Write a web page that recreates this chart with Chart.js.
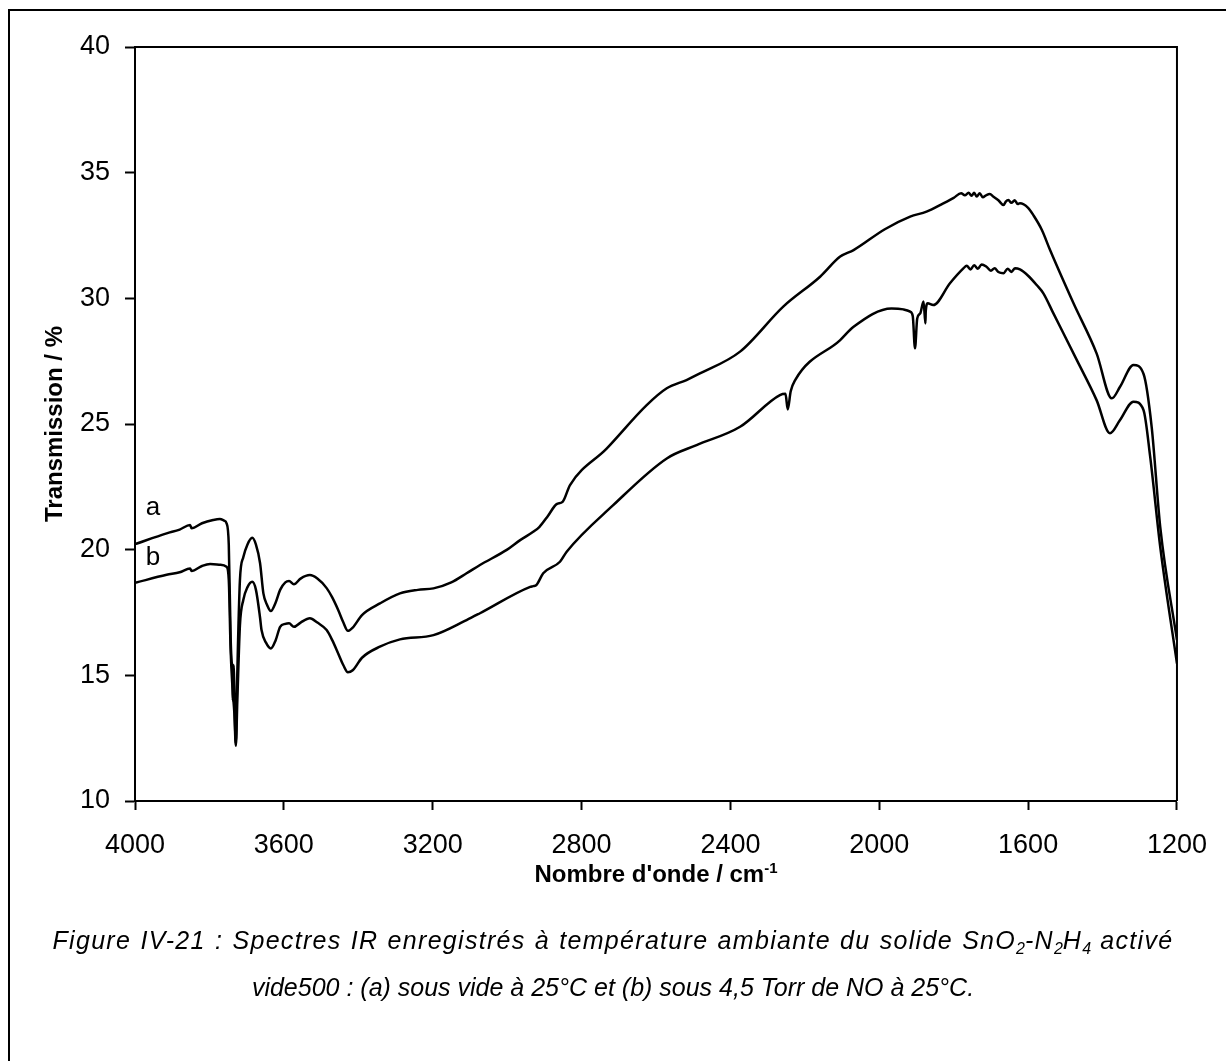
<!DOCTYPE html>
<html>
<head>
<meta charset="utf-8">
<script src="https://cdn.jsdelivr.net/npm/chart.js@4.4.0/dist/chart.umd.min.js"></script>
<style>
  body { margin: 0; background: #fff; }
  #wrap {
    position: relative; width: 1226px; height: 1061px; overflow: hidden;
    font-family: "Liberation Sans", Arial, sans-serif; color: #000;
  }
  #chart { position: absolute; left: 0; top: 0; }
  #frame {
    position: absolute; left: 8px; top: 9px; width: 1400px; height: 1200px;
    border-left: 2px solid #000; border-top: 2px solid #000;
  }
  .xtitle {
    position: absolute; left: 135px; width: 1042px; top: 859px;
    text-align: center; font-weight: bold; font-size: 24px; line-height: 30px;
  }
  .xtitle sup { font-size: 15px; line-height: 0; vertical-align: 9px; }
  .caption {
    position: absolute; left: 0; width: 1226px; text-align: center;
    font-style: italic; font-size: 25px; line-height: 30px; white-space: nowrap;
  }
  .caption.first { letter-spacing: 1.3px; word-spacing: 1px; }
  .caption sub { font-size: 16px; line-height: 0; vertical-align: -5px; letter-spacing: 0; }
</style>
</head>
<body>
<div id="wrap">
  <canvas id="chart" width="1226" height="1061"></canvas>
  <div id="frame"></div>
  <div class="xtitle">Nombre d'onde / cm<sup>-1</sup></div>
  <div class="caption first" style="top:925px">Figure IV-21 : Spectres IR enregistrés à température ambiante du solide SnO<sub>2</sub>-N<sub>2</sub>H<sub>4</sub> activé</div>
  <div class="caption" style="top:972px">vide500 : (a) sous vide à 25°C et (b) sous 4,5 Torr de NO à 25°C.</div>
</div>
<script>
// spectre (a) : sous vide à 25°C
const waveA = [4000, 3915, 3880, 3852, 3848, 3820, 3790, 3772, 3760, 3754, 3748, 3743, 3740, 3738, 3737,
  3735, 3732, 3729, 3726, 3718, 3709, 3698, 3685, 3675, 3664, 3655, 3645, 3635, 3622, 3610, 3596, 3586,
  3573, 3555, 3530, 3510, 3485, 3470, 3454, 3440, 3428, 3415, 3390, 3342, 3288, 3240, 3198, 3150, 3109,
  3073, 3000, 2965, 2930, 2913, 2890, 2867, 2851, 2831, 2732, 2625, 2571, 2518, 2482, 2374, 2258, 2159,
  2105, 2069, 1985, 1917, 1873, 1828, 1800, 1780, 1770, 1760, 1752, 1745, 1738, 1730, 1722, 1712, 1703,
  1693, 1680, 1666, 1660, 1653, 1645, 1636, 1628, 1622, 1600, 1586, 1563, 1541, 1478, 1416, 1375, 1353,
  1317, 1290, 1268, 1245, 1200];
const transA = [20.22, 20.65, 20.8, 20.98, 20.85, 21.05, 21.18, 21.22, 21.15, 21.05, 20.2, 16.5, 15.5, 15.3, 14.0,
  15.4, 13.5, 12.3, 14.5, 18.8, 19.7, 20.2, 20.47, 20.2, 19.47, 18.26, 17.8, 17.56, 17.9, 18.4, 18.7, 18.75,
  18.62, 18.85, 18.99, 18.85, 18.47, 18.1, 17.6, 17.1, 16.77, 16.9, 17.4, 17.86, 18.26, 18.4, 18.46, 18.7, 19.06,
  19.39, 20.0, 20.38, 20.71, 20.91, 21.35, 21.81, 21.9, 22.57, 24.03, 25.75, 26.42, 26.75, 27.01, 27.88, 29.67, 30.86,
  31.66, 31.92, 32.75, 33.25, 33.45, 33.78, 34.0, 34.18, 34.1, 34.2, 34.08, 34.2, 34.05, 34.18, 34.02, 34.11, 34.15,
  34.04, 33.9, 33.71, 33.85, 33.91, 33.8, 33.9, 33.75, 33.78, 33.6, 33.31, 32.72, 31.92, 29.8, 27.81, 26.02, 26.48,
  27.35, 27.0, 24.89, 20.91, 16.4];

// spectre (b) : sous 4,5 Torr de NO à 25°C
const waveB = [4000, 3915, 3880, 3852, 3848, 3820, 3798, 3770, 3754, 3748, 3743, 3738, 3733, 3729, 3725,
  3718, 3709, 3698, 3685, 3675, 3664, 3660, 3648, 3635, 3622, 3610, 3596, 3586, 3573, 3555, 3530, 3510,
  3485, 3470, 3454, 3440, 3428, 3415, 3390, 3342, 3288, 3198, 3109, 3073, 2938, 2930, 2921, 2903, 2858,
  2840, 2715, 2571, 2491, 2374, 2267, 2252, 2246, 2238, 2226, 2105, 2069, 1967, 1935, 1917, 1910, 1904,
  1898, 1890, 1881, 1876, 1875, 1870, 1855, 1810, 1774, 1765, 1755, 1745, 1735, 1725, 1712, 1700, 1690,
  1680, 1666, 1655, 1645, 1635, 1622, 1600, 1577, 1559, 1532, 1469, 1416, 1380, 1353, 1317, 1290, 1272,
  1245, 1200];
const transB = [18.68, 19.0, 19.1, 19.25, 19.15, 19.35, 19.43, 19.4, 19.32, 18.8, 16.0, 14.5, 13.5, 12.2, 14.0,
  17.0, 18.0, 18.5, 18.72, 18.4, 17.3, 16.8, 16.3, 16.07, 16.4, 16.93, 17.05, 17.07, 16.93, 17.1, 17.27, 17.1,
  16.8, 16.4, 15.87, 15.4, 15.12, 15.2, 15.7, 16.14, 16.43, 16.6, 17.2, 17.47, 18.52, 18.55, 18.6, 19.06, 19.52,
  19.92, 21.77, 23.63, 24.16, 24.89, 26.15, 26.2, 25.58, 26.3, 26.75, 28.34, 28.87, 29.6, 29.56, 29.47, 29.3, 28.01,
  29.2, 29.4, 29.87, 29.0, 29.5, 29.8, 29.73, 30.6, 31.19, 31.3, 31.15, 31.32, 31.18, 31.35, 31.26, 31.1, 31.2,
  31.05, 31.0, 31.18, 31.05, 31.2, 31.15, 30.9, 30.53, 30.2, 29.4, 27.54, 25.95, 24.63, 25.16, 25.89, 25.56, 23.7,
  20.11, 15.47];

const xTicks = [4000, 3600, 3200, 2800, 2400, 2000, 1600, 1200];
const yTicks = [10, 15, 20, 25, 30, 35, 40];

// repères des courbes : [texte, nombre d'onde, transmission]
const curveLabels = [['a', 3952, 21.65], ['b', 3952, 19.67]];

const pts = (xs, ys) => xs.map((x, i) => ({ x: x, y: ys[i] }));
const FONT = '"Liberation Sans", Arial, sans-serif';

const axisBox = {
  id: 'axisBox',
  afterDraw(chart) {
    const { ctx, chartArea: a, scales } = chart;
    ctx.save();
    ctx.strokeStyle = '#000';
    ctx.lineWidth = 2;
    ctx.beginPath();
    ctx.moveTo(a.left, a.top);
    ctx.lineTo(a.right, a.top);
    ctx.lineTo(a.right, a.bottom);
    ctx.stroke();
    ctx.fillStyle = '#000';
    ctx.font = '26px ' + FONT;
    ctx.textAlign = 'center';
    ctx.textBaseline = 'middle';
    curveLabels.forEach(([t, wx, ty]) => {
      ctx.fillText(t, scales.x.getPixelForValue(wx), scales.y.getPixelForValue(ty));
    });
    ctx.restore();
  }
};

new Chart(document.getElementById('chart'), {
  type: 'line',
  data: {
    datasets: [
      { label: 'a', data: pts(waveA, transA) },
      { label: 'b', data: pts(waveB, transB) }
    ]
  },
  options: {
    responsive: false,
    animation: false,
    elements: {
      line: { borderColor: '#000', borderWidth: 2.5, cubicInterpolationMode: 'monotone', fill: false },
      point: { radius: 0 }
    },
    layout: { padding: { left: 0, top: 47, right: 49, bottom: 200 } },
    plugins: { legend: { display: false }, tooltip: { enabled: false } },
    scales: {
      x: {
        type: 'linear', reverse: true, min: 1200, max: 4000,
        afterBuildTicks: s => { s.ticks = xTicks.map(v => ({ value: v })); },
        afterFit: s => { s.height = 60; },
        ticks: { color: '#000', font: { family: FONT, size: 27 }, padding: 19, maxRotation: 0,
          callback: v => String(v) },
        grid: { drawOnChartArea: false, tickLength: 9, tickWidth: 2, tickColor: '#000' },
        border: { color: '#000', width: 2 }
      },
      y: {
        min: 10, max: 40,
        afterBuildTicks: s => { s.ticks = yTicks.map(v => ({ value: v })); },
        afterFit: s => { s.width = 135; },
        ticks: { color: '#000', font: { family: FONT, size: 27 }, padding: 15 },
        grid: { drawOnChartArea: false, tickLength: 10, tickWidth: 2, tickColor: '#000' },
        border: { color: '#000', width: 2 },
        title: {
          display: true, text: 'Transmission / %', color: '#000',
          font: { family: FONT, size: 24, weight: 'bold' }, padding: { top: 41 }
        }
      }
    }
  },
  plugins: [axisBox]
});
</script>
</body>
</html>
